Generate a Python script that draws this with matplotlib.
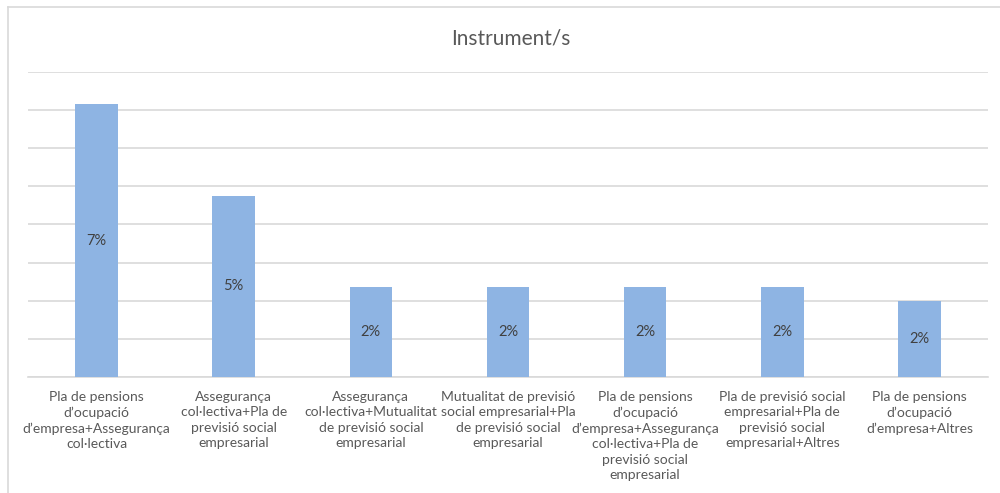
import matplotlib
matplotlib.use("Agg")
import matplotlib.pyplot as plt
from matplotlib.lines import Line2D

# categories (wrapped like the original axis labels)
categories = [
    "Pla de pensions\nd’ocupació\nd’empresa+Assegurança\ncol·lectiva",
    "Assegurança\ncol·lectiva+Pla de\nprevisió social\nempresarial",
    "Assegurança\ncol·lectiva+Mutualitat\nde previsió social\nempresarial",
    "Mutualitat de previsió\nsocial empresarial+Pla\nde previsió social\nempresarial",
    "Pla de pensions\nd’ocupació\nd’empresa+Assegurança\ncol·lectiva+Pla de\nprevisió social\nempresarial",
    "Pla de previsió social\nempresarial+Pla de\nprevisió social\nempresarial+Altres",
    "Pla de pensions\nd’ocupació\nd’empresa+Altres",
]
values = [7.15, 4.75, 2.37, 2.37, 2.37, 2.37, 2.0]  # percent

plt.rcParams['font.family'] = ['Lato', 'DejaVu Sans']

fig = plt.figure(figsize=(10, 4.93), dpi=100)
ax = fig.add_axes([0.028, 0.2353, 0.96, 0.619])

x = range(len(values))
ax.bar(x, values, width=0.31, color='#8eb4e3', zorder=3)

for xi, v in zip(x, values):
    ax.text(xi, v / 2, f"{v:.0f}%", ha='center', va='center',
            fontsize=10.5, color='#404040', zorder=4)

ax.set_xlim(-0.5, len(values) - 0.5)
ax.set_ylim(0, 8)
ax.set_yticks(range(0, 9))
ax.yaxis.grid(True, color='#d9d9d9', linewidth=1.2, zorder=0)
ax.tick_params(axis='y', left=False, labelleft=False)
ax.set_xticks(list(x))
ax.set_xticklabels(categories, fontsize=10, color='#595959', linespacing=1.35)
ax.tick_params(axis='x', length=0, pad=10)
for s in ['top', 'right', 'left']:
    ax.spines[s].set_visible(False)
ax.spines['bottom'].set_color('#d9d9d9')
ax.spines['bottom'].set_linewidth(1.2)

fig.text(0.511, 0.922, "Instrument/s", ha='center', va='center',
         fontsize=15, color='#595959')

# chart-area border (left and top edges visible)
fig.add_artist(Line2D([0.008, 0.008], [0, 0.986], color='#d9d9d9', lw=1.2))
fig.add_artist(Line2D([0.008, 1.0], [0.986, 0.986], color='#d9d9d9', lw=1.2))

fig.savefig("out.png", dpi=100)
